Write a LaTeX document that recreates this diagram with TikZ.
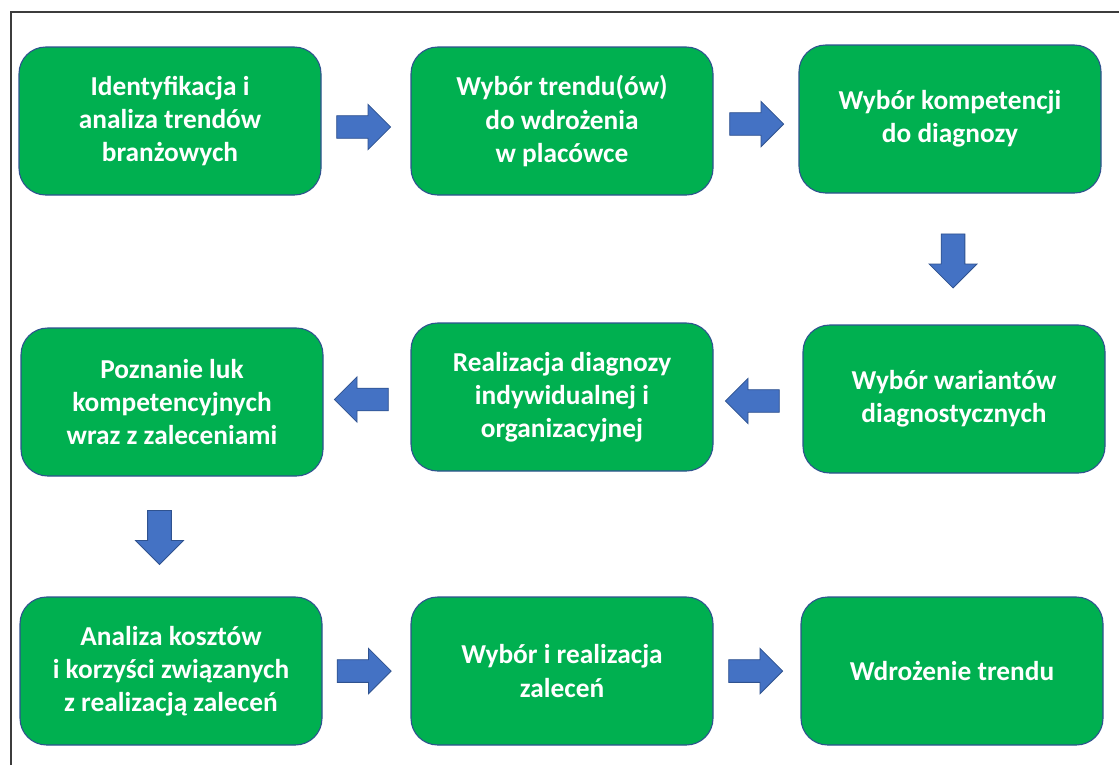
\documentclass[tikz,border=0pt]{standalone}
\usepackage{fontspec}
\setmainfont{Carlito}
\definecolor{boxgreen}{RGB}{0,176,80}
\definecolor{boxedge}{RGB}{47,82,143}
\definecolor{arrowblue}{RGB}{68,114,196}
\definecolor{framegray}{RGB}{60,60,60}
\usetikzlibrary{shapes.arrows,calc}

\begin{document}
\begin{tikzpicture}[x=0.75pt, y=-0.75pt,
  stepbox/.style={draw=boxedge, fill=boxgreen, line width=0.8pt, rounded corners=20pt, minimum width=226.5pt, minimum height=111pt, align=center, text=white, font=\fontsize{20.5}{24.8}\selectfont\bfseries},
  flowarrow/.style={single arrow, draw=boxedge, fill=arrowblue, line width=0.6pt, inner xsep=0pt, inner ysep=8.2pt, minimum height=40.5pt, single arrow head extend=8.5pt},
  downarrow/.style={flowarrow, shape border rotate=270, inner xsep=8.6pt, inner ysep=0pt, single arrow head extend=9pt}]
  \useasboundingbox[fill=white] (0,0) rectangle (1119,765);

  % Frame (top and left edge only)
  \draw[framegray, line width=1.3pt] (11,765) -- (11,12) -- (1119,12);

  % Row 1
  \node[stepbox] (trendy) at (170,121) {Identyfikacja i\\analiza trendów\\branżowych};
  \node[stepbox] (wybtrend) at (562,121) {Wybór trendu(ów)\\do wdrożenia\\w placówce};
  \node[stepbox] (kompet) at (950,119) {Wybór kompetencji\\do diagnozy};

  % Row 2
  \node[stepbox] (luki) at (172,402) {Poznanie luk\\kompetencyjnych\\wraz z zaleceniami};
  \node[stepbox] (diagnoza) at (562,397) {Realizacja diagnozy\\indywidualnej i\\organizacyjnej};
  \node[stepbox] (warianty) at (954,399) {Wybór wariantów\\diagnostycznych};

  % Row 3
  \node[stepbox] (koszty) at (171,671) {Analiza kosztów\\i korzyści związanych\\z realizacją zaleceń};
  \node[stepbox] (zalecenia) at (562,671) {Wybór i realizacja\\zaleceń};
  \node[stepbox] (wdrozenie) at (952,671) {Wdrożenie trendu};

  % Block arrows between the steps
  \node[flowarrow] (a1) at ($(trendy.east)!.5!(wybtrend.west)+(-8,6)$) {};
  \node[flowarrow] (a2) at ($(wybtrend.east)!.5!(kompet.west)+(-5,4)$) {};
  \node[downarrow] (a3) at ($(kompet.south)!.5!(warianty.north)+(1,-4)$) {};
  \node[flowarrow, shape border rotate=180] (a4) at ($(warianty.west)!.5!(diagnoza.east)+(0,3)$) {};
  \node[flowarrow, shape border rotate=180] (a5) at ($(diagnoza.west)!.5!(luki.east)$) {};
  \node[downarrow] (a6) at ($(luki.south)!.5!(koszty.north)+(-12,-5)$) {};
  \node[flowarrow] (a7) at ($(koszty.east)!.5!(zalecenia.west)+(-8,0)$) {};
  \node[flowarrow] (a8) at ($(zalecenia.east)!.5!(wdrozenie.west)+(-7,0)$) {};
\end{tikzpicture}
\end{document}
